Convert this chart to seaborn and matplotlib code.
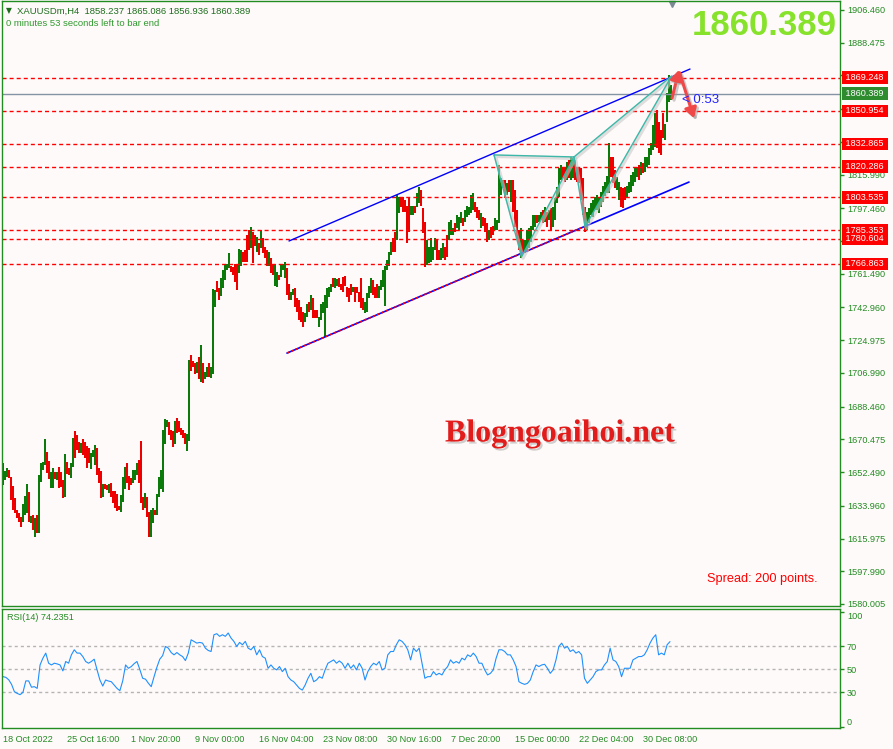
import matplotlib
matplotlib.use('Agg')
import matplotlib.pyplot as plt
import matplotlib.patheffects as pe
import numpy as np
import pandas as pd
import seaborn as sns

# ---- H4 bars of XAUUSDm (high, low, g=up / r=down) ----
highs = [
    1657.4, 1653.0, 1654.6, 1653.5, 1649.6, 1644.7, 1638.1, 1631.5, 1629.8, 1627.7,
    1634.8, 1639.2, 1645.8, 1641.4, 1628.2, 1628.8, 1627.1, 1628.8, 1650.7, 1657.4,
    1657.9, 1670.5, 1663.4, 1658.4, 1652.4, 1654.6, 1652.4, 1652.4, 1655.2, 1652.4,
    1648.0, 1662.3, 1657.9, 1654.6, 1657.4, 1671.1, 1674.9, 1672.7, 1668.9, 1668.3,
    1670.5, 1668.9, 1666.7, 1665.6, 1662.9, 1664.5, 1667.2, 1665.6, 1654.6, 1652.9,
    1645.8, 1645.8, 1645.3, 1645.8, 1646.4, 1641.9, 1641.9, 1640.3, 1633.7, 1639.8,
    1649.6, 1655.2, 1657.4, 1650.2, 1649.1, 1653.5, 1653.5, 1657.4, 1659.0, 1669.5,
    1638.6, 1640.8, 1638.6, 1630.4, 1631.5, 1632.6, 1631.5, 1640.3, 1649.6, 1653.5,
    1675.5, 1681.5, 1680.9, 1679.8, 1675.5, 1674.9, 1680.4, 1682.0, 1680.4, 1676.6,
    1675.5, 1673.8, 1673.3, 1714.0, 1716.7, 1713.5, 1712.4, 1712.9, 1715.7, 1722.2,
    1712.4, 1707.4, 1710.2, 1712.4, 1710.2, 1753.0, 1752.5, 1757.5, 1753.6,
    1759.0, 1763.5, 1767.0, 1767.0, 1772.8, 1766.0, 1765.0, 1766.8, 1766.8, 1775.0,
    1774.5, 1773.4, 1774.5, 1782.8, 1785.5, 1787.0, 1784.4, 1782.8, 1781.6, 1778.4,
    1785.5, 1781.0, 1776.0, 1774.5, 1773.4, 1770.0, 1767.0, 1766.8, 1762.4, 1760.8,
    1766.8, 1767.0, 1768.0, 1764.6, 1756.0, 1751.4, 1753.0, 1753.6, 1748.0, 1747.0,
    1743.0, 1740.4, 1739.8, 1745.0, 1745.9, 1749.8, 1748.0, 1741.5, 1741.5, 1737.6,
    1745.0, 1745.9, 1749.8, 1753.6, 1754.0, 1756.0, 1759.0, 1759.0, 1758.5, 1759.0,
    1756.0, 1759.6, 1760.0, 1754.0, 1753.6, 1756.0, 1754.0, 1754.0, 1754.0, 1751.4,
    1759.0, 1748.0, 1745.9, 1750.8, 1755.0, 1759.0, 1758.0, 1754.0, 1756.0, 1755.0,
    1758.0, 1763.5, 1766.0, 1769.0, 1773.4, 1779.0, 1781.0, 1784.4, 1804.8, 1803.6,
    1803.6, 1803.6, 1802.0, 1799.0, 1803.6, 1799.0, 1799.0, 1799.0, 1805.9, 1809.0,
    1807.5, 1797.6, 1790.0, 1780.0, 1776.0, 1781.0, 1776.0, 1781.0, 1780.0, 1774.5,
    1775.6, 1778.4, 1776.0, 1782.8, 1790.0, 1791.0, 1786.6, 1789.4, 1793.8, 1792.7,
    1795.4, 1792.0, 1796.5, 1799.0, 1798.0, 1804.8, 1805.9, 1801.0, 1798.0, 1796.5,
    1794.8, 1792.7, 1792.0, 1789.4, 1785.5, 1787.0, 1788.0, 1792.0, 1791.0, 1821.0,
    1814.0, 1813.0, 1813.0, 1811.4, 1813.0, 1813.0, 1813.0, 1807.5, 1796.5, 1785.5,
    1786.6, 1780.0, 1780.0, 1785.5, 1786.6, 1788.0, 1793.8, 1793.8, 1793.8, 1793.8,
    1795.4, 1796.5, 1798.0, 1795.4, 1796.5, 1797.6, 1798.0, 1803.0, 1809.0, 1819.6,
    1821.0, 1820.0, 1819.6, 1823.0, 1824.0, 1825.6, 1825.0, 1824.0, 1820.0, 1820.0,
    1819.6, 1814.0, 1798.0, 1795.4, 1797.6, 1800.4, 1802.0, 1803.6, 1804.8, 1803.6,
    1806.5, 1810.0, 1812.0, 1815.0, 1833.4, 1825.6, 1825.6, 1818.5, 1814.6, 1812.0,
    1809.0, 1808.6, 1809.0, 1810.0, 1812.0, 1815.8, 1817.4, 1820.0, 1820.0, 1821.0,
    1823.0, 1822.4, 1825.6, 1825.6, 1830.6, 1833.4, 1843.0, 1850.0, 1851.5, 1845.0,
    1840.5, 1850.0, 1844.0, 1860.9, 1870.8, 1865.086,
]
lows = [
    1645.3, 1648.0, 1649.6, 1649.1, 1637.0, 1631.5, 1629.8, 1627.1, 1624.9, 1622.1,
    1624.9, 1628.8, 1629.8, 1624.9, 1624.3, 1620.5, 1616.6, 1618.8, 1618.8, 1646.9,
    1653.5, 1656.3, 1651.8, 1648.6, 1643.6, 1643.6, 1648.6, 1648.0, 1643.6, 1644.2,
    1638.1, 1638.6, 1651.3, 1650.7, 1649.1, 1655.2, 1660.1, 1664.5, 1662.9, 1662.9,
    1661.8, 1660.1, 1654.6, 1657.4, 1654.1, 1660.7, 1656.3, 1650.7, 1646.4, 1638.1,
    1638.6, 1643.1, 1642.5, 1640.9, 1638.6, 1635.4, 1632.6, 1630.9, 1631.5, 1630.4,
    1635.9, 1643.1, 1646.4, 1642.5, 1645.3, 1646.4, 1648.0, 1650.7, 1646.4, 1635.4,
    1631.5, 1632.6, 1627.7, 1616.6, 1616.6, 1624.3, 1628.8, 1628.8, 1638.6, 1643.1,
    1641.4, 1667.8, 1677.1, 1672.7, 1670.0, 1666.1, 1667.8, 1673.8, 1674.4, 1672.7,
    1671.1, 1667.8, 1664.0, 1669.5, 1707.9, 1710.2, 1706.3, 1706.9, 1703.5, 1701.9,
    1701.4, 1703.5, 1704.6, 1704.6, 1704.1, 1706.3, 1743.2, 1751.4, 1747.0,
    1749.0, 1753.6, 1758.0, 1763.5, 1764.6, 1762.4, 1760.8, 1757.0, 1752.5, 1762.0,
    1766.0, 1768.0, 1768.0, 1768.0, 1774.5, 1775.6, 1767.4, 1777.0, 1773.4, 1771.8,
    1775.6, 1772.8, 1770.0, 1766.0, 1766.0, 1762.0, 1760.8, 1755.0, 1754.0, 1758.0,
    1759.6, 1763.5, 1759.0, 1749.8, 1747.0, 1747.0, 1749.8, 1743.0, 1740.4, 1736.0,
    1735.0, 1732.0, 1735.0, 1737.6, 1740.4, 1741.5, 1737.0, 1737.0, 1737.0, 1732.0,
    1736.0, 1739.8, 1726.7, 1742.6, 1748.6, 1751.4, 1754.0, 1753.6, 1755.0, 1754.0,
    1752.5, 1751.4, 1755.0, 1748.6, 1745.9, 1749.8, 1751.4, 1745.9, 1751.0, 1745.9,
    1742.6, 1741.5, 1739.8, 1740.4, 1748.0, 1750.8, 1749.8, 1748.0, 1748.0, 1748.0,
    1752.5, 1754.0, 1744.0, 1763.5, 1766.0, 1771.8, 1773.4, 1773.4, 1780.0, 1794.8,
    1798.0, 1795.4, 1795.4, 1778.4, 1784.4, 1793.8, 1793.8, 1794.8, 1798.0, 1800.4,
    1799.0, 1783.8, 1765.2, 1766.2, 1767.4, 1768.0, 1769.0, 1774.5, 1769.0, 1769.0,
    1769.0, 1770.0, 1769.0, 1770.6, 1780.0, 1782.8, 1782.8, 1784.4, 1786.6, 1785.5,
    1789.4, 1788.0, 1789.9, 1792.7, 1793.8, 1794.8, 1796.5, 1795.4, 1792.0, 1791.0,
    1786.6, 1788.0, 1784.4, 1778.9, 1780.0, 1781.0, 1782.8, 1785.5, 1785.5, 1789.4,
    1804.8, 1808.6, 1803.0, 1804.8, 1806.4, 1801.0, 1795.4, 1787.0, 1780.0, 1774.5,
    1770.0, 1772.8, 1772.8, 1773.4, 1775.6, 1778.9, 1785.5, 1787.0, 1789.4, 1790.0,
    1791.0, 1789.4, 1789.9, 1787.0, 1791.0, 1785.5, 1787.0, 1791.0, 1800.4, 1803.6,
    1813.0, 1814.0, 1812.0, 1813.0, 1814.0, 1813.0, 1814.0, 1813.0, 1812.0, 1811.4,
    1802.0, 1793.8, 1784.4, 1785.5, 1789.4, 1793.8, 1792.7, 1796.5, 1796.5, 1794.8,
    1798.0, 1801.0, 1804.0, 1806.0, 1806.0, 1814.6, 1811.4, 1808.6, 1807.5, 1802.0,
    1798.0, 1797.6, 1802.0, 1803.6, 1806.0, 1806.4, 1810.0, 1812.0, 1814.6, 1813.0,
    1815.8, 1817.0, 1817.4, 1820.0, 1821.0, 1826.8, 1829.5, 1831.0, 1830.6, 1828.0,
    1826.8, 1836.0, 1835.0, 1845.0, 1856.0, 1856.936,
]
bar_dir = ("rggrrrrrrr" "gggrgrgrgg" "ggrrggrgrr" "rgrrggrrrg" "rrrrgggrrr"
           "grrgrrrrrg" "ggrrrgggrr" "rgrrggrggg" "gggrrrgrrr" "rrggrrrgrg"
           "rggrgggrr"
           "gggggrrrrg" "grrrrgrrgr" "grrrgrrggr" "gggrrggrrr" "rrggrgrrrg"
           "ggggggrggr" "rrrrrrgrrr" "rrggggrrrg" "ggggggrrgg"
           "rrrrrggrgg" "rrrgggggrr" "ggrrgggrgg" "grgggggrrr" "grrrgrrggg"
           "ggrgrgrrrr" "grggggggrg" "grgrgrgggg" "grrgrggrrr" "rrrggggggg"
           "gggggrrrgg" "rrrggggggr" "grggggggrr" "rrgggg")

# RSI(14), sampled evenly along the bars
rsi_values = [
    43.7, 43.1, 41.0, 37.0, 30.6, 29.1, 28.0, 30.0, 40.0, 40.0, 34.5, 35.0, 33.5, 53.9, 59.8,
    64.2, 55.4, 53.9, 55.4, 54.8, 53.9, 48.7, 56.9, 55.4, 62.7, 67.1, 64.2, 64.2, 61.2, 56.9,
    55.4, 56.9, 58.9, 49.6, 40.8, 35.5, 40.8, 39.9, 39.3, 36.4, 33.5, 31.5, 40.0, 53.9, 51.0,
    52.5, 55.0, 56.9, 50.0, 42.3, 41.5, 38.0, 35.0, 43.7, 52.0, 58.9, 62.0, 70.0, 68.5, 64.7,
    62.7, 64.7, 62.7, 61.2, 57.7, 64.2, 75.8, 74.4, 72.9, 73.5, 72.9, 68.5, 66.5, 65.6, 80.2,
    81.1, 78.8, 80.2, 78.8, 81.7, 77.3, 74.4, 70.0, 73.5, 71.5, 74.4, 68.5, 67.1, 70.0, 62.7,
    67.1, 61.2, 59.8, 51.0, 53.9, 51.0, 49.6, 52.5, 48.1, 51.0, 43.7, 40.8, 39.3, 36.4, 33.5,
    32.0, 36.4, 42.3, 46.6, 39.3, 40.8, 43.7, 42.3, 49.6, 55.4, 56.9, 58.3, 55.4, 57.4, 55.4,
    51.0, 55.4, 51.0, 53.9, 49.6, 55.4, 51.0, 40.8, 48.1, 52.5, 55.4, 53.9, 56.9, 49.6, 51.0,
    62.7, 65.6, 65.6, 71.5, 75.8, 74.4, 71.5, 67.1, 58.3, 68.5, 65.6, 68.5, 55.4, 42.3, 43.7,
    43.7, 48.1, 45.2, 46.6, 45.2, 49.6, 52.5, 58.3, 55.4, 56.9, 55.4, 59.8, 58.3, 62.7, 61.2,
    64.2, 61.2, 55.4, 55.4, 49.6, 45.2, 46.6, 49.6, 59.8, 67.1, 67.1, 65.6, 62.7, 62.7, 58.3,
    52.5, 39.3, 37.9, 37.0, 37.9, 40.8, 48.1, 53.9, 52.5, 53.9, 54.5, 51.0, 46.6, 49.6, 58.3,
    70.0, 72.9, 68.5, 70.0, 65.6, 67.1, 64.2, 65.6, 62.7, 42.3, 37.9, 40.8, 43.7, 48.1, 49.6,
    49.6, 53.9, 56.9, 68.5, 58.3, 56.9, 52.5, 43.7, 51.0, 51.0, 51.0, 58.3, 59.8, 61.2, 61.2,
    62.7, 67.1, 72.9, 77.3, 80.2, 62.7, 64.2, 62.7, 71.5, 74.2,
]

date_bars = [0, 32, 64, 96, 128, 160, 192, 224, 256, 288, 320]
date_labels = ['18 Oct 2022', '25 Oct 16:00', '1 Nov 20:00', '9 Nov 00:00', '16 Nov 04:00',
               '23 Nov 08:00', '30 Nov 16:00', '7 Dec 20:00', '15 Dec 00:00',
               '22 Dec 04:00', '30 Dec 08:00']

price_ticks = [1580.005, 1597.990, 1615.975, 1633.960, 1652.490, 1670.475, 1688.460,
               1706.990, 1724.975, 1742.960, 1761.490, 1779.475, 1797.460, 1815.990,
               1833.975, 1851.960, 1870.490, 1888.475, 1906.460]
# ticks whose labels sit under the level boxes in the reference
hidden_ticks = [1779.475, 1833.975, 1851.960, 1870.490]
levels = [1869.248, 1850.954, 1832.865, 1820.286, 1803.535, 1785.353, 1780.604, 1766.863]
last_price = 1860.389

# drawn objects: (bar index, price)
upper_i, upper_p = [143, 343.5], [1779.5, 1874.0]
lower_i, lower_p = [142, 343], [1717.9, 1811.9]
red_trend_i, red_trend_p = [142, 291], [1717.9, 1787.6]
swing_i = [245.5, 259.3, 285.5, 291.0, 334.3]
swing_p = [1826.8, 1770.9, 1825.7, 1787.3, 1870.2]

BG = '#fffafa'
FG = '#228b22'
UP = '#0b7a0b'
DOWN = '#ee0000'

sns.set_theme(style='white', rc={'axes.facecolor': BG, 'figure.facecolor': BG})
plt.rcParams['font.family'] = ['Liberation Sans', 'DejaVu Sans']

W, H = 893, 749
fig = plt.figure(figsize=(W / 100, H / 100), dpi=100)


def box(x0, y0, x1, y1):
    return [x0 / W, 1 - y1 / H, (x1 - x0) / W, (y1 - y0) / H]


ax = fig.add_axes(box(2, 1, 840, 606))
ax2 = fig.add_axes(box(2, 609, 840, 728))

df = pd.DataFrame({'high': highs, 'low': lows, 'dir': list(bar_dir)})
df['bar'] = np.arange(len(df))

# price bars: 1-px wide columns from low to high
ax.bar(df['bar'], df['high'] - df['low'], bottom=df['low'], width=0.55,
       color=df['dir'].map({'g': UP, 'r': DOWN}).tolist(), linewidth=0, antialiased=False)

for lv in levels:
    ax.axhline(lv, color='#ff0000', lw=1, dashes=(2.9, 2.2), zorder=1)
    ax.text(1.004, lv, f' {lv:.3f} ', transform=ax.get_yaxis_transform(), color='white',
            fontsize=6.6, va='center', ha='left', clip_on=False, zorder=6,
            bbox=dict(boxstyle='square,pad=0.2', fc='#ff0000', ec='none'))
ax.axhline(last_price, color='#8494a4', lw=1, zorder=1)
ax.text(1.004, last_price, f' {last_price:.3f} ', transform=ax.get_yaxis_transform(),
        color='white', fontsize=6.6, va='center', ha='left', clip_on=False, zorder=6,
        bbox=dict(boxstyle='square,pad=0.2', fc='#2e8b2e', ec='none'))

# channel
sns.lineplot(x=upper_i, y=upper_p, ax=ax, color='#0000ff', lw=1)
sns.lineplot(x=lower_i, y=lower_p, ax=ax, color='#0000ff', lw=1.2)
ax.plot(red_trend_i, red_trend_p, color='#ff0000', lw=1.2, dashes=(1.4, 1.4))

# pattern triangles
shadow = [pe.SimpleLineShadow(offset=(1.0, -1.0), shadow_color='#c8c8c8', alpha=0.6, linewidth=2.5),
          pe.Normal()]
for idx in ([0, 1, 2, 0], [2, 3, 4, 2]):
    ax.plot([swing_i[k] for k in idx], [swing_p[k] for k in idx], color='#3cb8a8', lw=1.0,
            path_effects=shadow)

# red arrows
arr = dict(arrowstyle='-|>,head_length=0.5,head_width=0.3', color='#f04848', lw=2.2,
           shrinkA=0, shrinkB=0,
           path_effects=[pe.SimpleLineShadow(offset=(1.5, -1.5), shadow_color='#999999', alpha=0.5),
                         pe.Normal()])
ax.annotate('', xy=(338.0, 1873.5), xytext=(334.5, 1858.0), arrowprops=arr)
ax.annotate('', xy=(345.5, 1847.0), xytext=(338.3, 1872.0), arrowprops=arr)
ax.text(339.5, 1857.0, '< 0:53', color='#2424ff', fontsize=9.5, va='center', ha='left')

ax.plot([334.5], [1909.6], marker='v', color='#7d8a96', ms=5, clip_on=False)

ax.set_xlim(-0.5, 418.5)
ax.set_ylim(1578.9, 1911.4)
ax.set_xticks([])
ax.yaxis.tick_right()
ax.set_yticks(price_ticks,
              labels=['' if v in hidden_ticks else f'{v:.3f}' for v in price_ticks])
ax.tick_params(axis='y', colors=FG, labelsize=6.6, length=3, width=1, pad=2, direction='out')

# texts
ax.text(0.0048, 0.9835, '\u25bc', transform=ax.transAxes, color='#1c6e1c', fontsize=5.5,
        va='center', ha='left', family=['DejaVu Sans'])
ax.text(0.0179, 0.9835, 'XAUUSDm,H4  1858.237 1865.086 1856.936 1860.389',
        transform=ax.transAxes, color='#1c6e1c', fontsize=6.8, va='center', ha='left')
ax.text(0.0048, 0.962, '0 minutes 53 seconds left to bar end', transform=ax.transAxes,
        color='#2f9a2f', fontsize=6.8, va='center', ha='left')
ax.text(0.9964, 0.960, '1860.389', transform=ax.transAxes, color='#86e22a', fontsize=25,
        fontweight='bold', va='center', ha='right')
ax.text(0.5286, 0.2843, 'Blogngoaihoi.net', transform=ax.transAxes, color='#e21b1b',
        fontsize=23, fontweight='bold', family=['Liberation Serif'], va='center', ha='left',
        path_effects=[pe.withSimplePatchShadow(offset=(1.5, -1.5), shadow_rgbFace='#a0a0a0',
                                               alpha=0.5)])
ax.text(0.841, 0.0446, 'Spread: 200 points.', transform=ax.transAxes, color='#ff0000',
        fontsize=9.2, va='center', ha='left')

# RSI panel
rsi_x = np.linspace(0, 333.5, len(rsi_values))
sns.lineplot(x=rsi_x, y=rsi_values, ax=ax2, color='#1e90ff', lw=0.8)
for lv in (30, 50, 70):
    ax2.axhline(lv, color='#b4b4b4', lw=1, dashes=(2.2, 2.2), zorder=0)
ax2.text(0.006, 0.925, 'RSI(14) 74.2351', transform=ax2.transAxes, color=FG, fontsize=6.6,
         va='center', ha='left')
ax2.set_xlim(-0.5, 418.5)
ax2.set_ylim(-1.0, 102.6)
ax2.yaxis.tick_right()
ax2.set_yticks([0, 30, 50, 70, 100], labels=['0', '30', '50', '70', '100'])
for lab in ax2.get_yticklabels():
    if lab.get_text() == '100':
        lab.set_va('top')
    elif lab.get_text() == '0':
        lab.set_va('bottom')
ax2.set_xticks(date_bars, labels=date_labels)
for lab in ax2.get_xticklabels():
    lab.set_ha('left')
ax2.tick_params(axis='both', colors=FG, labelsize=6.6, length=3, width=1, pad=2, direction='out')
ax2.set_xlabel('')
ax2.set_ylabel('')
ax.set_xlabel('')
ax.set_ylabel('')

for a in (ax, ax2):
    for s in a.spines.values():
        s.set_color(FG)
        s.set_linewidth(1)
    a.grid(False)

fig.savefig('out.png', dpi=100, facecolor=BG)
